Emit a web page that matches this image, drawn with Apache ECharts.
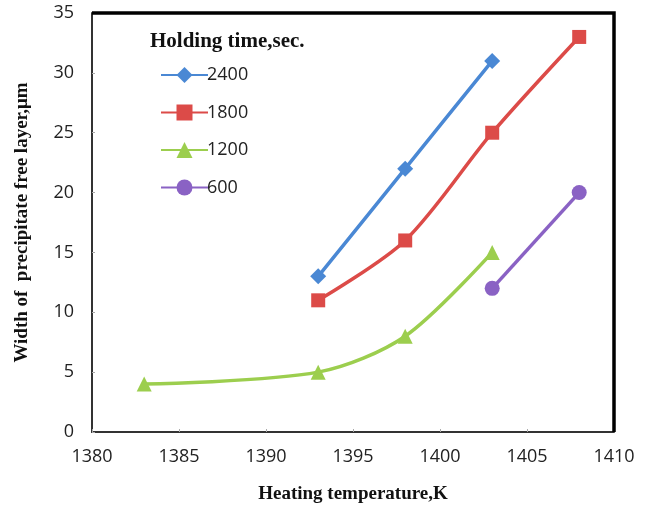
<!DOCTYPE html>
<html>
<head>
<meta charset="utf-8">
<script src="https://cdn.jsdelivr.net/npm/echarts@6/dist/echarts.min.js"></script>
<style>
  html, body { margin: 0; padding: 0; background: #fff; }
  #chart { width: 648px; height: 506px; }
</style>
</head>
<body>
<div id="chart"></div>
<script>
// Heating temperature (K) for each holding time, and measured layer width (μm)
const temps2400 = [1393, 1398, 1403];
const width2400 = [13, 22, 31];
const temps1800 = [1393, 1398, 1403, 1408];
const width1800 = [11, 16, 25, 33];
const temps1200 = [1383, 1393, 1398, 1403];
const width1200 = [4, 5, 8, 15];
const temps600 = [1403, 1408];
const width600 = [12, 20];

const seriesNames = ['2400', '1800', '1200', '600'];
const xTicks = { min: 1380, max: 1410, step: 5 };
const yTicks = { min: 0, max: 35, step: 5 };

function pairs(xs, ys) { return xs.map((x, i) => [x, ys[i]]); }

const chart = echarts.init(document.getElementById('chart'));

const mk = (name, xs, ys, color, symbol, size) => ({
  name: name,
  type: 'line',
  data: pairs(xs, ys),
  smooth: 0.3,
  symbol: symbol,
  symbolSize: size,
  lineStyle: { color: color, width: 3.5 },
  itemStyle: { color: color },
  z: 3
});

const serifBold = { fontFamily: 'Liberation Serif', fontWeight: 'bold', color: '#111' };

chart.setOption({
  animation: false,
  backgroundColor: '#fff',
  title: {
    text: 'Holding time,sec.',
    left: 145, top: 26,
    textStyle: Object.assign({ fontSize: 21 }, serifBold)
  },
  legend: {
    orient: 'vertical',
    left: 155, top: 61,
    itemWidth: 47, itemHeight: 20, itemGap: 19.5,
    data: seriesNames,
    textStyle: { fontFamily: 'Open Sans', fontSize: 18, color: '#222', padding: [0, 0, 0, -6] }
  },
  grid: { left: 92, right: 34, top: 13, bottom: 74, containLabel: false, outerBoundsMode: 'none' },
  xAxis: {
    type: 'value',
    min: xTicks.min, max: xTicks.max, interval: xTicks.step,
    name: 'Heating temperature,K',
    nameLocation: 'middle', nameGap: 53,
    nameTextStyle: Object.assign({ fontSize: 19 }, serifBold),
    axisLine: { show: true, lineStyle: { color: '#333', width: 2 } },
    axisTick: { show: true, inside: true, length: 3, lineStyle: { color: '#aaa' } },
    axisLabel: { fontFamily: 'Open Sans', fontSize: 18, color: '#222', margin: 16,
                 formatter: v => String(v) },
    splitLine: { show: false }
  },
  yAxis: {
    type: 'value',
    min: yTicks.min, max: yTicks.max, interval: yTicks.step,
    name: 'Width of  precipitate free layer,μm',
    nameLocation: 'middle', nameGap: 60,
    nameTextStyle: Object.assign({ fontSize: 19 }, serifBold),
    axisLine: { show: true, lineStyle: { color: '#333', width: 2 } },
    axisTick: { show: true, inside: true, length: 3, lineStyle: { color: '#aaa' } },
    axisLabel: { fontFamily: 'Open Sans', fontSize: 18, color: '#222', margin: 18 },
    splitLine: { show: false }
  },
  series: [
    mk(seriesNames[0], temps2400, width2400, '#4a88d4', 'diamond', 16),
    mk(seriesNames[1], temps1800, width1800, '#dc4b48', 'rect', 14),
    mk(seriesNames[2], temps1200, width1200, '#9cce4e', 'triangle', 15),
    mk(seriesNames[3], temps600, width600, '#8a62c4', 'circle', 15)
  ]
});

// Heavy frame on the top and right edges of the plot area
const tl = chart.convertToPixel({ gridIndex: 0 }, [xTicks.min, yTicks.max]);
const br = chart.convertToPixel({ gridIndex: 0 }, [xTicks.max, yTicks.min]);
chart.setOption({
  graphic: [{
    type: 'polyline',
    shape: { points: [[tl[0], tl[1]], [br[0], tl[1]], [br[0], br[1]]] },
    style: { stroke: '#000', lineWidth: 3.5, fill: null },
    z: 10
  }]
});
</script>
</body>
</html>
